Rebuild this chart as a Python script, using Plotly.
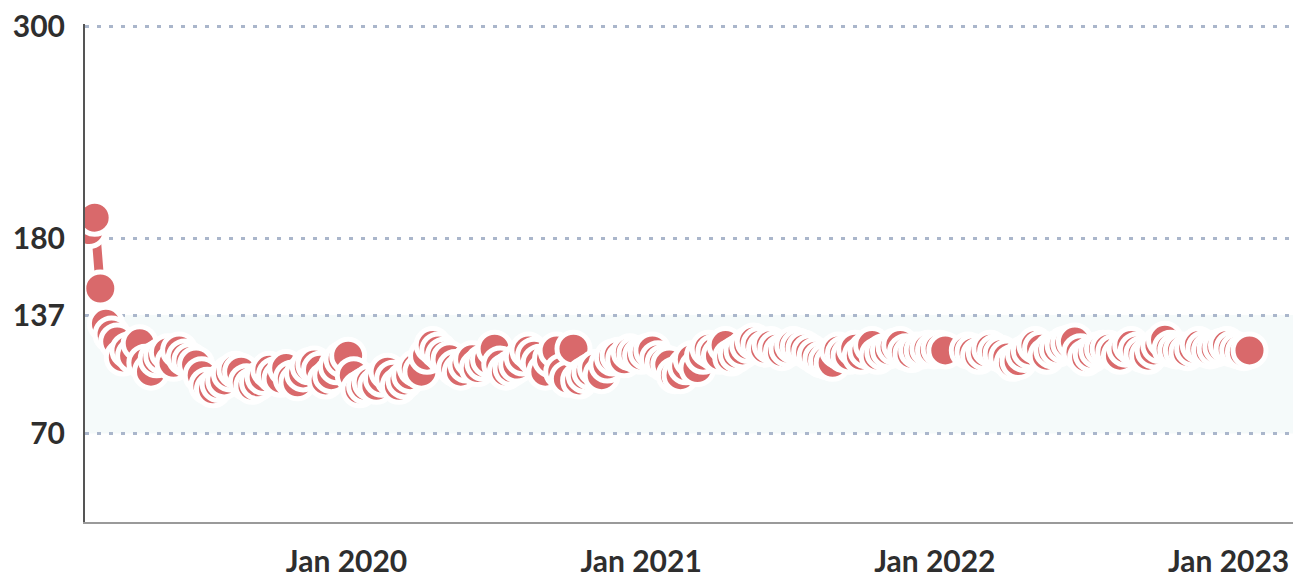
import pandas as pd
import plotly.graph_objects as go

# weekly readings, first reading on 2019-02-15
first_date = "2019-02-15"
week_freq = "7D"

values = [
    185, 192, 152, 132, 126, 122, 113, 117, 114, 121,   # Feb-Apr 2019
    110, 105, 112, 114, 116, 110, 117, 113, 111, 109,
    103, 97, 95, 98, 100, 104, 106, 105, 99, 97,
    99, 102, 106, 103, 101, 107, 101, 99, 104, 108,
    109, 106, 100, 103, 108, 112, 114, 103, 95, 97,      # Dec 2019 - Jan 2020
    99, 97, 101, 105, 101, 97, 100, 103, 107, 105,
    114, 120, 117, 114, 112, 107, 105, 109, 112, 107,
    110, 112, 118, 109, 105, 107, 109, 113, 117, 114,
    110, 105, 112, 117, 105, 101, 118, 100, 103, 105,
    107, 103, 109, 113, 114, 112, 116, 115, 114, 116,    # Nov 2020 - Jan 2021
    117, 112, 110, 109, 103, 103, 108, 112, 107, 114,
    118, 116, 114, 120, 113, 115, 117, 120, 122, 120,
    118, 120, 118, 116, 118, 120, 119, 118, 116, 114,
    112, 111, 110, 117, 115, 114, 118, 114, 117, 120,
    114, 116, 117, 119, 120, 116, 115, 117, 117, 118,    # Nov 2021 - Jan 2022
    117, 118, 117, None, None, None, 117, 116, 114, 116,
    118, 116, 115, 113, 110, 111, 115, 117, 120, 118,
    114, 117, 118, 120, 121, 122, 116, 113, 115, 117,
    118, 118, 116, 114, 118, 120, 117, 115, 114, 117,
    120, 123, 118, 117, 117, 116, 118, 120, 118, 117,    # Oct 2022 - Jan 2023
    118, 119, 120, 118, 117, 116, 117,
]

dates = pd.date_range(first_date, periods=len(values), freq=week_freq)

y_ticks = [70, 137, 180, 300]
target_low = 70
target_high = 137

RED = "#d9696b"
GRID = "#aab6cb"
TEXT = "#2e2e2e"
FONT = "Lato"

fig = go.Figure()

fig.add_shape(
    type="rect", xref="paper", yref="y",
    x0=0, x1=1, y0=target_low, y1=target_high,
    fillcolor="#f5fafa", line=dict(width=0), layer="below",
)

fig.add_trace(go.Scatter(
    x=dates, y=values, mode="lines+markers",
    line=dict(color=RED, width=9),
    marker=dict(size=33, color=RED, line=dict(color="white", width=5)),
    connectgaps=True,
    hoverinfo="x+y", showlegend=False,
))

# the page body adds an 8px offset, so the figure is 8px smaller than the window
fig.update_layout(
    width=1293, height=574,
    margin=dict(l=77, r=0, t=16, b=60),
    paper_bgcolor="white", plot_bgcolor="rgba(0,0,0,0)",
    font=dict(family=FONT, size=30, color=TEXT),
    showlegend=False,
)

fig.update_xaxes(
    type="date", automargin=False, ticklabeloverflow="allow",
    range=["2019-02-10", "2023-04-01"],
    tick0="2020-01-01", dtick="M12", tickformat="%b %Y",
    showgrid=False, zeroline=False,
    showline=True, linecolor="#9a9a9a", linewidth=2,
    ticks="outside", ticklen=12, tickcolor="rgba(0,0,0,0)",
    tickfont=dict(family=FONT, size=30, color=TEXT, weight="bold"),
)

fig.update_yaxes(
    range=[20, 301.5], automargin=False, ticklabeloverflow="allow",
    tickmode="array", tickvals=y_ticks,
    showgrid=True, gridcolor=GRID, gridwidth=3, griddash="4px,8px",
    zeroline=False,
    showline=True, linecolor="#555555", linewidth=2,
    ticks="outside", ticklen=12, tickcolor="rgba(0,0,0,0)",
    tickfont=dict(family=FONT, size=30, color=TEXT, weight="bold"),
)

fig.write_html("out.html")
